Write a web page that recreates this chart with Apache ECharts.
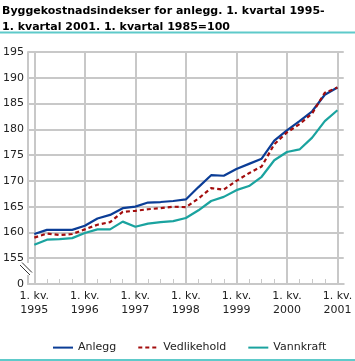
<!DOCTYPE html>
<html>
<head>
<meta charset="utf-8">
<script src="https://cdn.jsdelivr.net/npm/echarts@6/dist/echarts.min.js"></script>
<style>
html,body{margin:0;padding:0;background:#fff;}
#chart{width:355px;height:361px;}
</style>
</head>
<body>
<div id="chart"></div>
<script>
var categories = [
  '1. kv.\n1995','2. kv. 1995','3. kv. 1995','4. kv. 1995',
  '1. kv.\n1996','2. kv. 1996','3. kv. 1996','4. kv. 1996',
  '1. kv.\n1997','2. kv. 1997','3. kv. 1997','4. kv. 1997',
  '1. kv.\n1998','2. kv. 1998','3. kv. 1998','4. kv. 1998',
  '1. kv.\n1999','2. kv. 1999','3. kv. 1999','4. kv. 1999',
  '1. kv.\n2000','2. kv. 2000','3. kv. 2000','4. kv. 2000',
  '1. kv.\n2001'
];
var anlegg = [
  159.7, 160.5, 160.5, 160.5,
  161.3, 162.7, 163.4, 164.7,
  165.0, 165.8, 165.9, 166.1,
  166.4, 168.8, 171.1, 171.0,
  172.3, 173.3, 174.3, 177.8,
  179.8, 181.6, 183.5, 186.7,
  188.1
];
var vedlikehold = [
  159.0, 159.8, 159.5, 159.7,
  160.6, 161.5, 162.0, 164.0,
  164.2, 164.5, 164.7, 165.0,
  164.9, 166.6, 168.6, 168.3,
  170.0, 171.5, 172.8, 177.1,
  179.4, 181.0, 183.1, 187.1,
  188.1
];
var vannkraft = [
  157.6, 158.6, 158.7, 158.9,
  159.9, 160.6, 160.6, 162.1,
  161.1, 161.7, 162.0, 162.2,
  162.8, 164.3, 166.1, 166.9,
  168.2, 169.0, 170.8, 174.0,
  175.6, 176.1, 178.4, 181.6,
  183.7
];
var seriesNames = ['Anlegg', 'Vedlikehold', 'Vannkraft'];
var titleText = 'Byggekostnadsindekser for anlegg. 1. kvartal 1995-\n1. kvartal 2001. 1. kvartal 1985=100';

var FONT = 'DejaVu Sans';
var GRID = '#c8c8c8';
var chart = echarts.init(document.getElementById('chart'), null, {renderer: 'canvas'});
chart.setOption({
  animation: false,
  backgroundColor: '#ffffff',
  title: {
    text: titleText,
    left: 0,
    top: 1,
    padding: [2, 2],
    textStyle: {fontFamily: FONT, fontWeight: 'bold', fontSize: 11, color: '#000', lineHeight: 16}
  },
  graphic: [
    {type: 'line', shape: {x1: 0, y1: 32.5, x2: 355, y2: 32.5}, style: {stroke: '#5ecaca', lineWidth: 2}},
    {type: 'line', shape: {x1: 0, y1: 360, x2: 355, y2: 360}, style: {stroke: '#5ecaca', lineWidth: 2}},
    {type: 'rect', shape: {x: 19, y: 263, width: 14, height: 12}, style: {fill: '#fff'}, z: 100},
    {type: 'line', shape: {x1: 20, y1: 265, x2: 30, y2: 275}, style: {stroke: '#333', lineWidth: 1}, z: 101},
    {type: 'line', shape: {x1: 22, y1: 262.5, x2: 32, y2: 272.5}, style: {stroke: '#333', lineWidth: 1}, z: 101}
  ],
  legend: {
    left: 47,
    top: 337,
    itemWidth: 20,
    itemHeight: 14,
    itemGap: 21,
    itemStyle: {opacity: 0},
    textStyle: {fontFamily: FONT, fontSize: 11, color: '#222'},
    data: seriesNames
  },
  grid: {left: 26, right: 4, top: 52, bottom: 77, containLabel: false},
  xAxis: {
    type: 'category',
    data: categories,
    boundaryGap: true,
    axisLine: {show: true, lineStyle: {color: GRID, width: 2}},
    axisTick: {show: true, inside: true, length: 5, alignWithLabel: true, interval: 0, lineStyle: {color: GRID, width: 1}},
    axisLabel: {
      interval: function (i) { return i % 4 === 0; },
      fontFamily: FONT, fontSize: 11, color: '#222', lineHeight: 14, margin: 5
    },
    splitLine: {
      show: true,
      alignWithLabel: true,
      interval: function (i) { return i % 4 === 0; },
      lineStyle: {color: GRID, width: 2}
    }
  },
  yAxis: {
    type: 'value',
    min: 150,
    max: 195,
    interval: 5,
    axisLine: {show: true, lineStyle: {color: GRID, width: 2}},
    axisTick: {show: false},
    axisLabel: {
      formatter: function (v) { return v === 150 ? '0' : String(v); },
      fontFamily: FONT, fontSize: 11, color: '#222', margin: 4
    },
    splitLine: {show: true, lineStyle: {color: GRID, width: 2}}
  },
  series: [
    {name: seriesNames[0], type: 'line', data: anlegg, showSymbol: false, symbol: 'none',
      lineStyle: {color: '#0b3d96', width: 2.2}, itemStyle: {color: '#0b3d96'}, z: 4},
    {name: seriesNames[1], type: 'line', data: vedlikehold, showSymbol: false, symbol: 'none',
      lineStyle: {color: '#a30d0d', width: 2.2, type: [4, 3]}, itemStyle: {color: '#a30d0d'}, z: 5},
    {name: seriesNames[2], type: 'line', data: vannkraft, showSymbol: false, symbol: 'none',
      lineStyle: {color: '#1aa39f', width: 2.2}, itemStyle: {color: '#1aa39f'}, z: 3}
  ]
});
</script>
</body>
</html>
